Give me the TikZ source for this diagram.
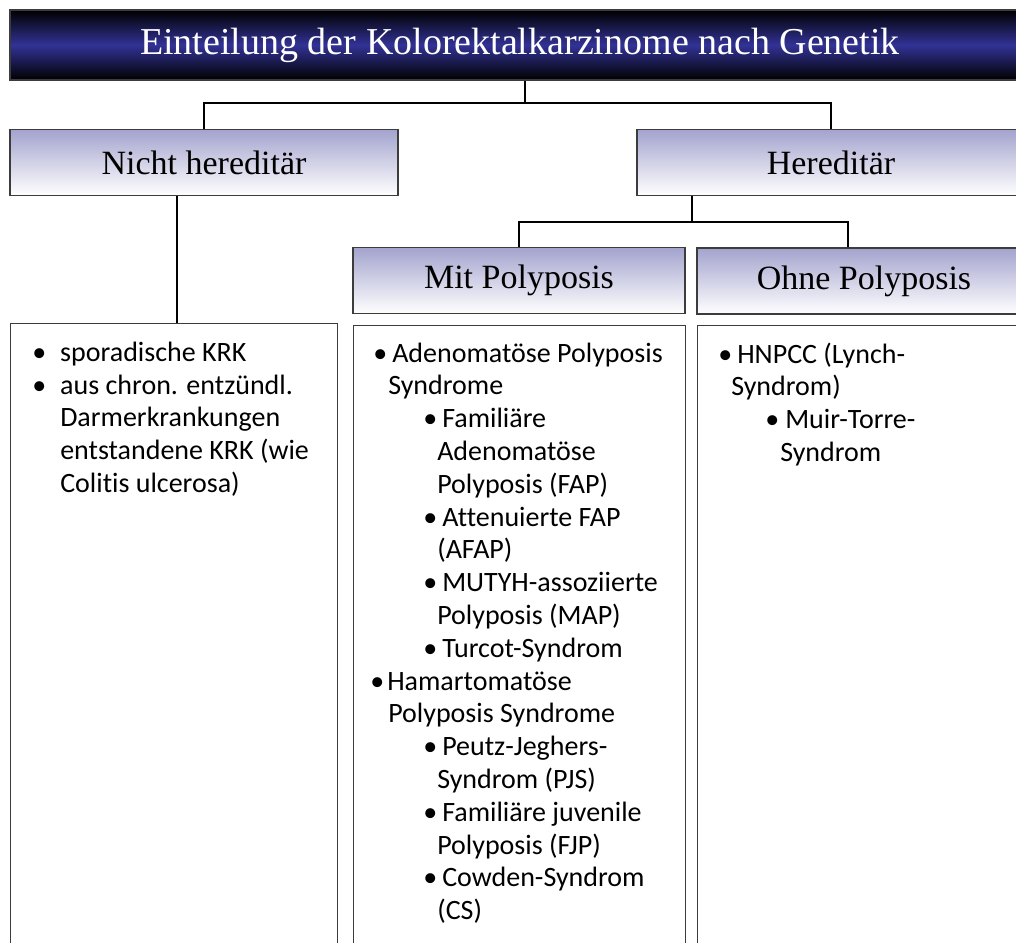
\documentclass[tikz,border=0pt]{standalone}
\usepackage{fontspec}
\setmainfont{Liberation Serif}
\newfontfamily\listfont[Ligatures=NoCommon]{Carlito}
\usepackage{xcolor}
\usepackage{tikz}

\definecolor{navy}{RGB}{50,50,150}
\definecolor{lav}{RGB}{163,163,206}
\definecolor{rim}{RGB}{60,60,60}
\newdimen\pu \pu=0.75pt
\newcommand{\itm}[3]{\hspace*{#1\pu}\makebox[#2\pu][l]{•}#3}
\newcommand{\cnt}[2]{\hspace*{#1\pu}#2}

\begin{document}
\begin{tikzpicture}[x=0.75pt, y=0.75pt,
     hdr/.style={rectangle, draw=rim, line width=1.1pt, top color=black, bottom color=black, middle color=navy, text=white, font=\fontsize{28.5}{32}\selectfont, minimum height=70*0.75pt},
     cat/.style={rectangle, draw=rim, line width=1.1pt, top color=lav, bottom color=white, font=\fontsize{25.5}{30}\selectfont, minimum height=66*0.75pt},
     box/.style={rectangle, draw=rim, line width=1.1pt, fill=white, minimum height=640*0.75pt},
     lst/.style={inner sep=0pt, align=left, font=\listfont\fontsize{21}{24.6}\selectfont},
     link/.style={line width=0.9pt}]
     \useasboundingbox (0,0) rectangle (1016,-942);

     \node[hdr, minimum width=1020*0.75pt] (title) at (520,-45) {Einteilung der Kolorektalkarzinome nach Genetik};
     \node[cat, minimum width=388*0.75pt] (nicht) at (204,-162.5) {Nicht hereditär};
     \node[cat, minimum width=388*0.75pt] (hered) at (831,-162.5) {Hereditär};
     \node[cat, minimum width=332*0.75pt] (mit) at (519,-280.5) {Mit Polyposis};
     \node[cat, minimum width=334*0.75pt] (ohne) at (864,-281) {Ohne Polyposis};

     \node[box, minimum width=327*0.75pt, anchor=north west] (lbox) at (10,-323) {};
     \node[box, minimum width=332*0.75pt, anchor=north west] (mbox) at (353,-325) {};
     \node[box, minimum width=334*0.75pt, anchor=north west] (rbox) at (697,-325) {};

     \coordinate (tj) at (525,-103);
     \coordinate (hj) at (692,-222);
     \coordinate (oj) at (848,-222);

     \draw[link] (title.south -| tj) -- (tj);
     \draw[link] (nicht.north) |- (tj) -| (hered.north);
     \draw[link] (nicht.south -| 177,0) -- (lbox.north -| 177,0);
     \draw[link] (hered.south -| hj) -- (hj);
     \draw[link] (mit.north) |- (oj) -- (oj |- ohne.north);

     \node[lst, anchor=north west] (ltxt) at ([yshift=-14]lbox.north west) {%
          \itm{22}{28}{sporadische KRK}\\
          \itm{22}{28}{aus chron. entzündl.}\\
          \cnt{50}{Darmerkrankungen}\\
          \cnt{50}{entstandene KRK (wie}\\
          \cnt{50}{Colitis ulcerosa)}};

     \node[lst, anchor=north west] (mtxt) at ([yshift=-13]mbox.north west) {%
          \itm{20}{19}{Adenomatöse Polyposis}\\
          \cnt{35}{Syndrome}\\
          \itm{70}{19}{Familiäre}\\
          \cnt{84}{Adenomatöse}\\
          \cnt{84}{Polyposis (FAP)}\\
          \itm{70}{19}{Attenuierte FAP}\\
          \cnt{84}{(AFAP)}\\
          \itm{70}{19}{MUTYH-assoziierte}\\
          \cnt{84}{Polyposis (MAP)}\\
          \itm{70}{19}{Turcot-Syndrom}\\
          \itm{17}{17}{Hamartomatöse}\\
          \cnt{35}{Polyposis Syndrome}\\
          \itm{70}{19}{Peutz-Jeghers-}\\
          \cnt{84}{Syndrom (PJS)}\\
          \itm{70}{19}{Familiäre juvenile}\\
          \cnt{84}{Polyposis (FJP)}\\
          \itm{70}{19}{Cowden-Syndrom}\\
          \cnt{84}{(CS)}};

     \node[lst, anchor=north west] (rtxt) at ([yshift=-13]rbox.north west) {%
          \itm{21}{19}{HNPCC (Lynch-}\\
          \cnt{34}{Syndrom)}\\
          \itm{68}{20}{Muir-Torre-}\\
          \cnt{83}{Syndrom}};
\end{tikzpicture}
\end{document}
